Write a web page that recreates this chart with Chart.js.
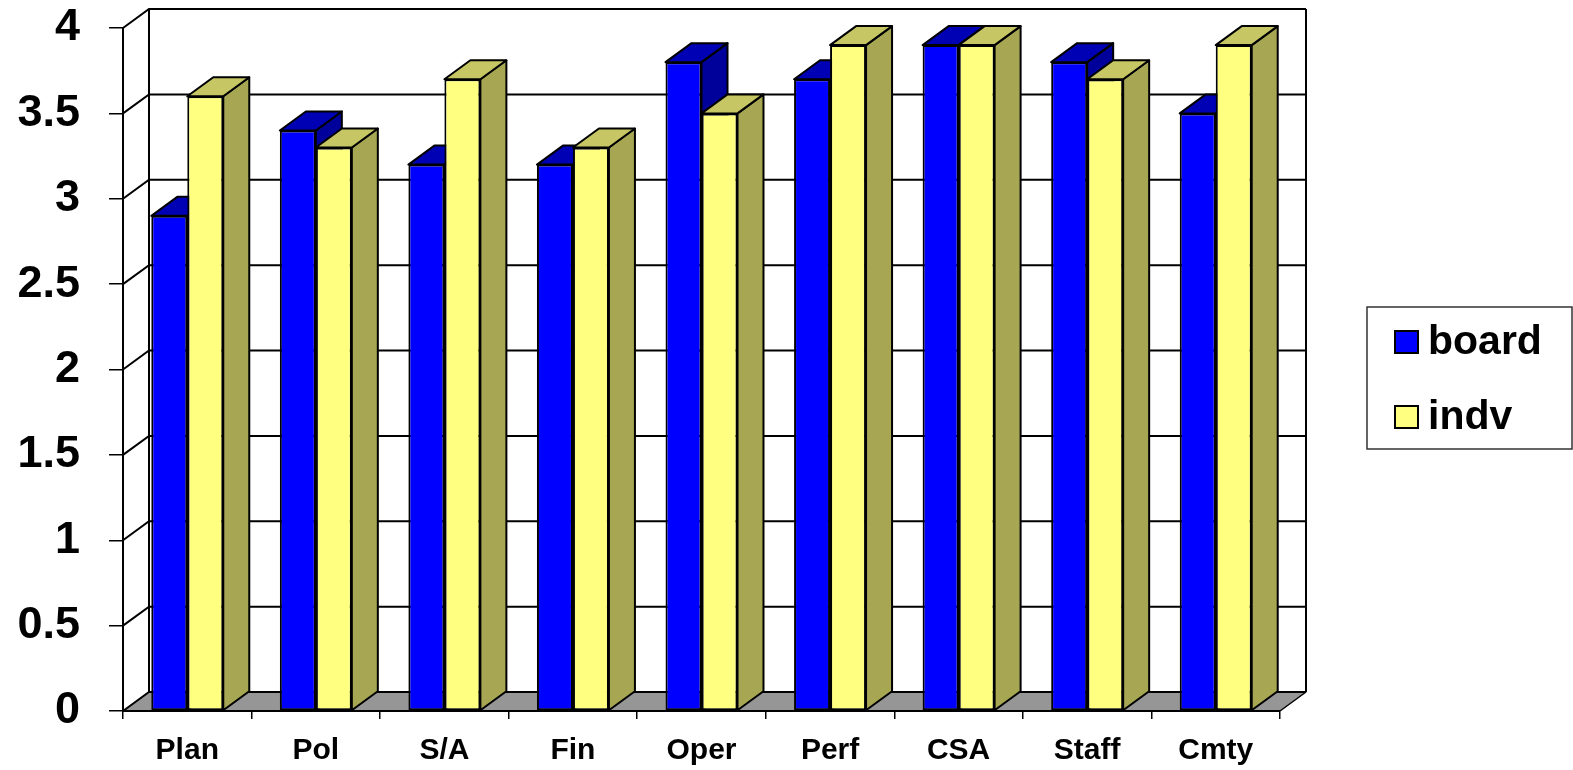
<!DOCTYPE html>
<html><head><meta charset="utf-8">
<script src="https://cdn.jsdelivr.net/npm/chart.js@4.4.1/dist/chart.umd.min.js"></script>
<style>html,body{margin:0;padding:0;background:#fff;overflow:hidden;}</style>
</head><body><canvas id="c" width="1573" height="770"></canvas>
<script>
const categories = ['Plan','Pol','S/A','Fin','Oper','Perf','CSA','Staff','Cmty'];
const boardValues = [2.9, 3.4, 3.2, 3.2, 3.8, 3.7, 3.9, 3.8, 3.5];
const indvValues  = [3.6, 3.3, 3.7, 3.3, 3.5, 3.9, 3.9, 3.7, 3.9];
const seriesNames = ['board', 'indv'];
const yTickLabels = ['0','0.5','1','1.5','2','2.5','3','3.5','4'];
const yMin = 0, yMax = 4, yStep = 0.5;

const DX = 26, DY = -19;
const FONT = '"Liberation Sans", Arial, sans-serif';
const faceColors = [
  {front:'#0000FF', top:'#0000B4', side:'#00009A'},
  {front:'#FFFF80', top:'#C6C664', side:'#A6A653'}
];

function poly(ctx, pts, fill){
  ctx.beginPath();
  ctx.moveTo(pts[0][0], pts[0][1]);
  for (let i=1;i<pts.length;i++) ctx.lineTo(pts[i][0], pts[i][1]);
  ctx.closePath();
  ctx.fillStyle = fill; ctx.fill();
  ctx.stroke();
}

const threeD = {
  id: 'threeD',
  beforeDraw(chart){
    const ctx = chart.ctx, ys = chart.scales.y;
    const L = chart.chartArea.left, R = chart.chartArea.right;
    const B = ys.getPixelForValue(yMin), T = ys.getPixelForValue(yMax);
    ctx.save();
    ctx.fillStyle = '#fff'; ctx.fillRect(0,0,chart.width,chart.height);
    ctx.fillStyle = '#969696';
    ctx.beginPath(); ctx.moveTo(L,B); ctx.lineTo(R,B); ctx.lineTo(R+DX,B+DY); ctx.lineTo(L+DX,B+DY); ctx.closePath(); ctx.fill();
    ctx.strokeStyle = '#000'; ctx.lineWidth = 1.5;
    ctx.beginPath(); ctx.moveTo(R,B); ctx.lineTo(R+DX,B+DY); ctx.stroke();
    ctx.lineWidth = 2;
    for (let k=0;k<yTickLabels.length;k++){
      const y = ys.getPixelForValue(yMin + k*yStep);
      ctx.beginPath(); ctx.moveTo(L,y); ctx.lineTo(L+DX,y+DY); ctx.lineTo(R+DX,y+DY); ctx.stroke();
    }
    ctx.beginPath();
    ctx.moveTo(L+DX,T+DY); ctx.lineTo(L+DX,B+DY);
    ctx.moveTo(R+DX,T+DY); ctx.lineTo(R+DX,B+DY);
    ctx.stroke();
    ctx.restore();
  },
  beforeDatasetsDraw(chart){
    const ctx = chart.ctx;
    ctx.save();
    ctx.strokeStyle = '#000'; ctx.lineWidth = 2; ctx.lineJoin = 'round';
    chart.data.datasets.forEach((ds, di) => {
      const meta = chart.getDatasetMeta(di);
      const c = faceColors[di];
      meta.data.forEach(el => {
        const p = el.getProps(['x','y','base','width'], true);
        const l = p.x - p.width/2, r = p.x + p.width/2, t = p.y, b = p.base;
        poly(ctx, [[r,t],[r+DX,t+DY],[r+DX,b+DY],[r,b]], c.side);
        poly(ctx, [[l,t],[r,t],[r+DX,t+DY],[l+DX,t+DY]], c.top);
      });
    });
    ctx.restore();
  },
  afterDraw(chart){
    const ctx = chart.ctx;
    ctx.save();
    const lx = 1367, ly = 307, lw = 205, lh = 142;
    ctx.strokeStyle = '#333'; ctx.lineWidth = 1.5;
    ctx.strokeRect(lx, ly, lw, lh);
    ctx.font = 'bold 41px ' + FONT;
    ctx.textBaseline = 'middle'; ctx.textAlign = 'left';
    chart.data.datasets.forEach((ds, i) => {
      const cy = 342 + i*75;
      ctx.fillStyle = ds.backgroundColor;
      ctx.fillRect(1395, cy-11, 23, 22);
      ctx.strokeStyle = '#000'; ctx.lineWidth = 2;
      ctx.strokeRect(1395, cy-11, 23, 22);
      ctx.fillStyle = '#000';
      ctx.fillText(ds.label, 1428, cy+1);
    });
    ctx.restore();
  }
};

new Chart(document.getElementById('c'), {
  type: 'bar',
  data: {
    labels: categories,
    datasets: [
      {label: seriesNames[0], data: boardValues, backgroundColor: faceColors[0].front, borderColor:'#000', borderWidth:2, borderSkipped:false, categoryPercentage:0.56, barPercentage:1.0},
      {label: seriesNames[1], data: indvValues, backgroundColor: faceColors[1].front, borderColor:'#000', borderWidth:2, borderSkipped:false, categoryPercentage:0.56, barPercentage:1.0}
    ]
  },
  options: {
    responsive: false,
    animation: false,
    layout: {padding: {top: 28, right: 293, left: 0, bottom: 0}},
    plugins: {legend: {display:false}, tooltip: {enabled:false}},
    scales: {
      x: {
        offset: true,
        grid: {display:true, drawOnChartArea:false, drawTicks:true, tickLength:8, color:'#000', lineWidth:1.5, offset:true},
        border: {display:true, color:'#000', width:2},
        ticks: {color:'#000', font:{family:FONT, size:30, weight:'bold'}, padding:14, maxRotation:0, autoSkip:false},
        afterFit(s){ s.height = 59; s.paddingLeft = 0; s.paddingRight = 0; }
      },
      y: {
        min: yMin, max: yMax,
        grid: {drawOnChartArea:false, drawTicks:true, tickLength:14, color:'#000', lineWidth:1.5},
        border: {display:true, color:'#000', width:2},
        ticks: {stepSize: yStep, color:'#000', font:{family:FONT, size:45, weight:'bold'}, padding:29,
                callback: (v, i) => yTickLabels[i]},
        afterFit(s){ s.width = 123; s.paddingTop = 0; s.paddingBottom = 0; }
      }
    }
  },
  plugins: [threeD]
});
</script>
</body></html>
